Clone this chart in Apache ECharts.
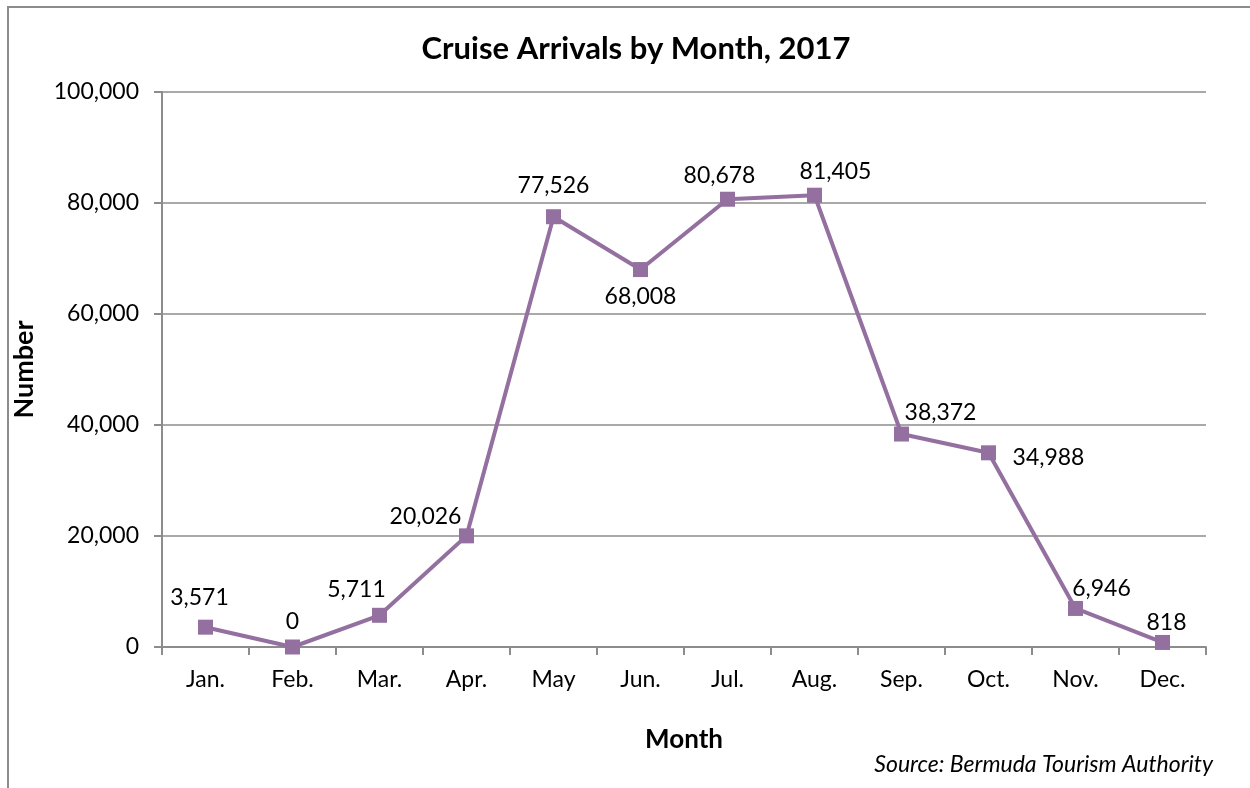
<!DOCTYPE html>
<html>
<head>
<meta charset="utf-8">
<script src="https://cdn.jsdelivr.net/npm/echarts@6/dist/echarts.min.js"></script>
<style>
  html, body { margin: 0; padding: 0; background: #fff; }
  #chart { width: 1250px; height: 788px; }
</style>
</head>
<body>
<div id="chart"></div>
<script>
// Monthly cruise passenger arrivals, 2017
const months = ['Jan.', 'Feb.', 'Mar.', 'Apr.', 'May', 'Jun.', 'Jul.', 'Aug.', 'Sep.', 'Oct.', 'Nov.', 'Dec.'];
const arrivals = [3571, 0, 5711, 20026, 77526, 68008, 80678, 81405, 38372, 34988, 6946, 818];
const yTicks = [0, 20000, 40000, 60000, 80000, 100000];

// Per-point label nudges (pixels from the marker centre) so labels clear the line
const labelOffsets = [
  [-6, -30], [0, -25], [-23, -26], [-41, -19], [0, -31], [0, 27],
  [-8, -24], [21, -24], [39, -21], [60, 5], [26, -20], [4, -20]
];

const purple = '#93709f';
const font = 'Lato, "Open Sans", sans-serif';

const fmt = v => v.toLocaleString('en-US');

const chart = echarts.init(document.getElementById('chart'), null, { renderer: 'canvas' });

chart.setOption({
  backgroundColor: '#ffffff',
  animation: false,
  textStyle: { fontFamily: font },
  title: {
    text: 'Cruise Arrivals by Month, 2017',
    left: 631,
    textAlign: 'center',
    top: 28,
    textStyle: { fontFamily: font, fontWeight: 'bold', fontSize: 31, color: '#000' }
  },
  grid: { left: 162, right: 44, top: 92, bottom: 141, containLabel: false },
  xAxis: {
    type: 'category',
    data: months,
    boundaryGap: true,
    name: 'Month',
    nameLocation: 'middle',
    nameGap: 80,
    nameTextStyle: { fontFamily: font, fontWeight: 'bold', fontSize: 26, color: '#000' },
    axisLine: { lineStyle: { color: '#8c8c8c', width: 2 } },
    axisTick: { show: true, length: 8, inside: false, lineStyle: { color: '#8c8c8c', width: 2 } },
    axisLabel: { fontFamily: font, fontSize: 23, color: '#000', margin: 21 },
    splitLine: { show: false }
  },
  yAxis: {
    type: 'value',
    min: yTicks[0],
    max: yTicks[yTicks.length - 1],
    interval: yTicks[1] - yTicks[0],
    name: 'Number',
    nameLocation: 'middle',
    nameGap: 124,
    nameRotate: 90,
    nameTextStyle: { fontFamily: font, fontWeight: 'bold', fontSize: 27, color: '#000' },
    axisLine: { show: true, lineStyle: { color: '#8c8c8c', width: 2 } },
    axisTick: { show: true, length: 8, lineStyle: { color: '#8c8c8c', width: 2 } },
    axisLabel: { fontFamily: font, fontSize: 23, color: '#000', margin: 23, formatter: v => fmt(v) },
    splitLine: { show: true, lineStyle: { color: '#8c8c8c', width: 1.5 } }
  },
  series: [{
    type: 'line',
    data: arrivals.map((v, i) => ({
      value: v,
      label: { offset: labelOffsets[i] }
    })),
    lineStyle: { color: purple, width: 4 },
    itemStyle: { color: purple },
    symbol: 'rect',
    symbolSize: 15,
    z: 5,
    label: {
      show: true,
      position: 'inside',
      formatter: p => fmt(p.value),
      fontFamily: font,
      fontSize: 23,
      color: '#000'
    }
  }],
  graphic: [
    {
      type: 'polyline',
      shape: { points: [[8, 788], [8, 7], [1250, 7]] },
      style: { stroke: '#8c8c8c', lineWidth: 2, fill: null },
      silent: true
    },
    {
      type: 'text',
      right: 37,
      top: 753,
      style: {
        text: 'Source: Bermuda Tourism Authority',
        fontFamily: font,
        fontStyle: 'italic',
        fontSize: 23,
        fill: '#000'
      }
    }
  ]
});
</script>
</body>
</html>
